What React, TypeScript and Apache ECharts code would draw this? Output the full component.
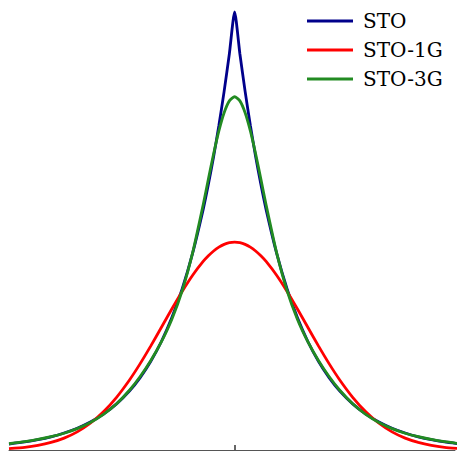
import React, { useEffect, useRef } from "react";
import * as echarts from "echarts";

// radial distance samples (r >= 0), mirrored for negative side
const radii = [0, 0.1, 0.2, 0.3, 0.4, 0.5, 0.6, 0.8, 1.0, 1.2, 1.4, 1.6, 1.8, 2.0, 2.25, 2.5, 2.75, 3.0, 3.25, 3.5, 3.75, 4.0, 4.3];
// values relative to STO peak
const stoValues = [1, 0.9048, 0.8187, 0.7408, 0.6703, 0.6065, 0.5488, 0.4493, 0.3679, 0.3012, 0.2466, 0.2019, 0.1653, 0.1353, 0.1054, 0.0821, 0.0639, 0.0498, 0.0388, 0.0302, 0.0235, 0.0183, 0.0136];
const sto1gValues = [0.4745, 0.4732, 0.4694, 0.4631, 0.4544, 0.4434, 0.4304, 0.399, 0.3619, 0.3212, 0.279, 0.2371, 0.1972, 0.1605, 0.1204, 0.0873, 0.0611, 0.0414, 0.0271, 0.0172, 0.0105, 0.0062, 0.0032];
const sto3gValues = [0.8065, 0.7971, 0.7701, 0.7285, 0.6764, 0.6186, 0.5595, 0.4505, 0.3635, 0.2975, 0.2461, 0.2038, 0.1677, 0.1369, 0.1055, 0.0812, 0.0627, 0.0488, 0.0383, 0.0303, 0.024, 0.019, 0.0143];
const seriesNames = ["STO", "STO-1G", "STO-3G"];
const seriesColors = ["#00008b", "#ff0000", "#228b22"];

function mirror(vals: number[]): number[][] {
  const out: number[][] = [];
  for (let i = radii.length - 1; i > 0; i--) out.push([-radii[i], vals[i]]);
  for (let i = 0; i < radii.length; i++) out.push([radii[i], vals[i]]);
  return out;
}

export default function App() {
  const ref = useRef<HTMLDivElement>(null);
  useEffect(() => {
    if (!ref.current) return;
    const chart = echarts.init(ref.current, null, { renderer: "svg" });
    const allVals = [stoValues, sto1gValues, sto3gValues];
    chart.setOption({
      animation: false,
      backgroundColor: "#ffffff",
      grid: { left: 9, right: 4, top: 12, bottom: 1 },
      xAxis: {
        type: "value",
        min: -4.3,
        max: 4.2,
        axisLine: { show: true, lineStyle: { color: "#555555", width: 1 } },
        axisTick: { show: true, inside: true, length: 5, customValues: [0], lineStyle: { color: "#333333", width: 1.5 } },
        axisLabel: { show: false },
        splitLine: { show: false },
      },
      yAxis: {
        type: "value",
        min: 0,
        max: 1,
        show: false,
        splitLine: { show: false },
      },
      legend: {
        orient: "vertical",
        left: 302,
        top: 6,
        padding: 5,
        itemWidth: 46,
        itemHeight: 3,
        itemGap: 9,
        icon: "rect",
        textStyle: { fontFamily: "DejaVu Serif", fontSize: 20, color: "#000000", lineHeight: 20, padding: [0, 0, 0, 5] },
        data: seriesNames,
      },
      series: seriesNames.map((name, i) => ({
        name,
        type: "line",
        data: mirror(allVals[i]),
        showSymbol: false,
        symbol: "none",
        smooth: 0.2,
        clip: false,
        lineStyle: { color: seriesColors[i], width: 2.8 },
        itemStyle: { color: seriesColors[i] },
      })),
    });
    return () => chart.dispose();
  }, []);
  return <div ref={ref} style={{ width: 459, height: 451, position: "absolute", left: 0, top: 0 }} />;
}
